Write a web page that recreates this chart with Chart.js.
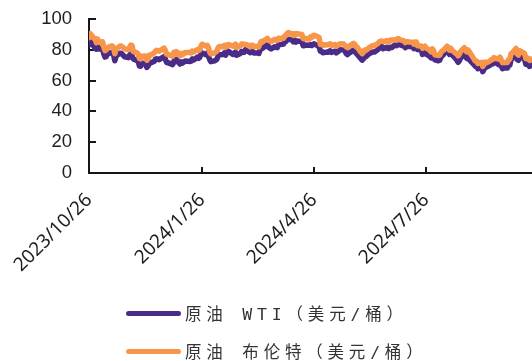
<!DOCTYPE html>
<html>
<head>
<meta charset="utf-8">
<script src="https://cdn.jsdelivr.net/npm/chart.js@4/dist/chart.umd.min.js"></script>
<style>
  html, body { margin: 0; padding: 0; background: #fff; }
  #wrap { position: relative; width: 532px; height: 361px; overflow: hidden; }
  #chart { position: absolute; left: 0; top: 0; }
  .item { position: absolute; left: 126px; height: 20px; display: flex; align-items: center; }
  .swatch { width: 55px; height: 5px; border-radius: 3px; flex: none; }
  .label { margin-left: 4px; font-size: 16.5px; font-family: "DejaVu Sans Mono", "Noto Sans CJK SC", monospace;
           letter-spacing: 4.8px; color: #333; white-space: nowrap; }
</style>
</head>
<body>
<div id="wrap">
  <canvas id="chart" width="532" height="361"></canvas>
  <div class="item" style="top:303px"><div class="swatch" id="sw0"></div><span class="label" id="lb0"></span></div>
  <div class="item" style="top:341px"><div class="swatch" id="sw1"></div><span class="label" id="lb1"></span></div>
</div>
<script>
// Daily closes, 2023/10/26 - 2024/10/22 (USD per barrel)
const dates = [
  // 2023-10
  '2023/10/26','2023/10/27','2023/10/30','2023/10/31',
  // 2023-11
  '2023/11/1','2023/11/2','2023/11/3','2023/11/6','2023/11/7','2023/11/8','2023/11/9','2023/11/10',
  '2023/11/13','2023/11/14','2023/11/15','2023/11/16','2023/11/17','2023/11/20','2023/11/21','2023/11/22',
  '2023/11/24','2023/11/27','2023/11/28','2023/11/29','2023/11/30',
  // 2023-12
  '2023/12/1','2023/12/4','2023/12/5','2023/12/6','2023/12/7','2023/12/8','2023/12/11','2023/12/12',
  '2023/12/13','2023/12/14','2023/12/15','2023/12/18','2023/12/19','2023/12/20','2023/12/21','2023/12/22',
  '2023/12/26','2023/12/27','2023/12/28','2023/12/29',
  // 2024-01
  '2024/1/2','2024/1/3','2024/1/4','2024/1/5','2024/1/8','2024/1/9','2024/1/10','2024/1/11','2024/1/12',
  '2024/1/16','2024/1/17','2024/1/18','2024/1/19','2024/1/22','2024/1/23','2024/1/24','2024/1/25','2024/1/26',
  '2024/1/29','2024/1/30','2024/1/31',
  // 2024-02
  '2024/2/1','2024/2/2','2024/2/5','2024/2/6','2024/2/7','2024/2/8','2024/2/9','2024/2/12','2024/2/13',
  '2024/2/14','2024/2/15','2024/2/16','2024/2/20','2024/2/21','2024/2/22','2024/2/23','2024/2/26','2024/2/27',
  '2024/2/28','2024/2/29',
  // 2024-03
  '2024/3/1','2024/3/4','2024/3/5','2024/3/6','2024/3/7','2024/3/8','2024/3/11','2024/3/12','2024/3/13',
  '2024/3/14','2024/3/15','2024/3/18','2024/3/19','2024/3/20','2024/3/21','2024/3/22','2024/3/25','2024/3/26',
  '2024/3/27','2024/3/28',
  // 2024-04
  '2024/4/1','2024/4/2','2024/4/3','2024/4/4','2024/4/5','2024/4/8','2024/4/9','2024/4/10','2024/4/11',
  '2024/4/12','2024/4/15','2024/4/16','2024/4/17','2024/4/18','2024/4/19','2024/4/22','2024/4/23','2024/4/24',
  '2024/4/25','2024/4/26','2024/4/29','2024/4/30',
  // 2024-05
  '2024/5/1','2024/5/2','2024/5/3','2024/5/6','2024/5/7','2024/5/8','2024/5/9','2024/5/10','2024/5/13',
  '2024/5/14','2024/5/15','2024/5/16','2024/5/17','2024/5/20','2024/5/21','2024/5/22','2024/5/23','2024/5/24',
  '2024/5/28','2024/5/29','2024/5/30','2024/5/31',
  // 2024-06
  '2024/6/3','2024/6/4','2024/6/5','2024/6/6','2024/6/7','2024/6/10','2024/6/11','2024/6/12','2024/6/13',
  '2024/6/14','2024/6/17','2024/6/18','2024/6/20','2024/6/21','2024/6/24','2024/6/25','2024/6/26','2024/6/27',
  '2024/6/28',
  // 2024-07
  '2024/7/1','2024/7/2','2024/7/3','2024/7/5','2024/7/8','2024/7/9','2024/7/10','2024/7/11','2024/7/12',
  '2024/7/15','2024/7/16','2024/7/17','2024/7/18','2024/7/19','2024/7/22','2024/7/23','2024/7/24','2024/7/25',
  '2024/7/26','2024/7/29','2024/7/30','2024/7/31',
  // 2024-08
  '2024/8/1','2024/8/2','2024/8/5','2024/8/6','2024/8/7','2024/8/8','2024/8/9','2024/8/12','2024/8/13',
  '2024/8/14','2024/8/15','2024/8/16','2024/8/19','2024/8/20','2024/8/21','2024/8/22','2024/8/23','2024/8/26',
  '2024/8/27','2024/8/28','2024/8/29','2024/8/30',
  // 2024-09
  '2024/9/3','2024/9/4','2024/9/5','2024/9/6','2024/9/9','2024/9/10','2024/9/11','2024/9/12','2024/9/13',
  '2024/9/16','2024/9/17','2024/9/18','2024/9/19','2024/9/20','2024/9/23','2024/9/24','2024/9/25','2024/9/26',
  '2024/9/27','2024/9/30',
  // 2024-10
  '2024/10/1','2024/10/2','2024/10/3','2024/10/4','2024/10/7','2024/10/8','2024/10/9','2024/10/10','2024/10/11',
  '2024/10/14','2024/10/15','2024/10/16','2024/10/17','2024/10/18','2024/10/21','2024/10/22'
];

const wti = [
  83.2, 85.5, 82.3, 81.0,
  80.4, 82.5, 80.5, 80.8, 77.4, 75.3, 75.7, 77.2, 78.3, 78.3, 76.7, 72.9, 75.9, 77.8, 77.8, 77.1, 75.5, 74.9, 76.4, 77.9, 76.0,
  74.1, 73.0, 72.3, 69.4, 69.3, 71.2, 71.3, 68.6, 69.5, 71.6, 71.4, 72.5, 73.9, 74.2, 73.9, 73.6, 75.6, 74.1, 71.8, 71.7,
  70.4, 72.7, 72.2, 73.8, 70.8, 72.2, 71.4, 72.0, 72.7, 72.4, 72.6, 74.1, 73.4, 75.2, 74.4, 75.1, 77.4, 78.0, 76.8, 77.8, 75.9,
  73.8, 72.3, 72.8, 73.3, 73.9, 76.2, 76.8, 76.9, 77.9, 76.6, 78.0, 79.2, 77.0, 77.9, 78.6, 76.5, 77.6, 78.9, 78.5, 78.3,
  80.0, 78.7, 78.2, 79.1, 78.9, 78.0, 77.9, 77.6, 79.7, 81.3, 81.0, 82.7, 83.5, 81.7, 81.1, 80.6, 82.0, 81.6, 81.4, 83.2,
  83.7, 85.2, 85.4, 86.6, 86.9, 86.4, 85.2, 86.2, 85.0, 85.7, 85.4, 85.4, 82.7, 82.7, 83.1, 82.9, 83.4, 82.8, 83.6, 83.9, 82.6, 81.9,
  79.0, 79.0, 78.1, 78.5, 78.4, 79.0, 79.3, 78.3, 79.1, 78.0, 78.6, 79.2, 80.1, 79.8, 79.3, 77.6, 76.9, 77.7, 79.8, 79.2, 77.9, 77.0,
  74.2, 73.3, 74.1, 75.6, 75.5, 77.7, 78.0, 78.5, 78.6, 78.5, 80.3, 81.6, 82.2, 80.7, 81.6, 80.8, 80.9, 81.7, 81.5,
  83.4, 82.8, 83.9, 83.2, 82.3, 81.4, 82.1, 82.6, 82.2, 81.9, 80.8, 82.9, 82.8, 80.1, 79.8, 77.0, 77.6, 78.3, 77.2, 75.8, 74.7, 77.9,
  76.3, 73.5, 72.9, 73.2, 75.2, 76.2, 76.8, 80.1, 78.4, 77.0, 78.2, 76.7, 74.4, 73.2, 71.9, 73.0, 74.8, 77.4, 75.5, 74.5, 75.9, 73.6,
  70.3, 69.2, 69.2, 67.7, 68.7, 65.8, 67.3, 69.0, 68.7, 70.1, 71.2, 70.9, 72.0, 71.9, 70.4, 71.6, 69.7, 67.7, 68.2, 68.2,
  69.8, 70.1, 73.7, 74.4, 77.1, 73.6, 73.2, 75.9, 75.6, 73.8, 70.6, 70.4, 70.7, 69.2, 70.6, 72.1
];

const brent = [
  87.9, 90.5, 87.5, 87.4,
  84.6, 86.9, 84.9, 85.2, 81.6, 79.5, 80.0, 81.4, 82.5, 82.5, 81.2, 77.4, 80.6, 82.3, 82.5, 82.0, 80.6, 80.0, 81.7, 83.1, 82.8,
  78.9, 78.0, 77.2, 74.3, 74.1, 75.8, 76.0, 73.2, 74.3, 76.6, 76.6, 78.0, 79.2, 79.7, 79.4, 79.1, 81.1, 79.7, 77.2, 77.0,
  75.9, 78.3, 77.6, 78.8, 76.1, 77.6, 76.8, 77.4, 78.3, 78.3, 77.9, 79.1, 78.6, 80.1, 79.6, 80.0, 82.4, 83.6, 82.4, 82.9, 81.7,
  78.7, 77.3, 78.0, 78.6, 79.2, 81.6, 82.2, 82.0, 82.8, 81.6, 82.9, 83.5, 82.3, 83.0, 83.7, 81.6, 82.5, 83.7, 83.7, 83.6,
  83.6, 82.8, 82.0, 83.0, 83.0, 82.1, 82.2, 81.9, 84.0, 85.4, 85.3, 86.9, 87.4, 86.0, 85.8, 85.4, 86.8, 86.3, 86.1, 87.5,
  87.4, 88.9, 89.4, 90.7, 91.2, 90.4, 89.4, 90.5, 89.7, 90.5, 90.1, 90.0, 87.3, 87.1, 87.3, 87.0, 88.4, 88.0, 89.0, 89.5, 88.4, 87.9,
  83.4, 83.7, 83.0, 83.3, 83.2, 83.6, 83.9, 82.8, 83.4, 82.4, 82.8, 83.3, 84.0, 83.7, 82.9, 82.0, 81.4, 82.1, 84.2, 83.6, 81.9, 81.6,
  78.4, 77.5, 78.4, 79.9, 79.6, 81.6, 81.9, 82.6, 82.8, 82.6, 84.3, 85.3, 85.7, 85.2, 86.0, 85.0, 85.3, 86.4, 86.4,
  86.6, 86.2, 87.3, 86.5, 85.8, 84.7, 85.1, 85.4, 85.0, 84.9, 83.7, 85.1, 85.1, 82.6, 82.4, 81.0, 81.7, 82.4, 81.1, 79.8, 78.6, 80.7,
  79.5, 76.8, 76.3, 76.5, 78.3, 79.2, 79.7, 82.3, 80.7, 79.8, 81.0, 79.7, 77.7, 77.2, 76.1, 77.2, 79.0, 81.4, 79.6, 78.7, 79.9, 78.8,
  73.8, 72.7, 72.7, 71.1, 71.8, 69.2, 70.6, 72.0, 71.6, 72.8, 73.7, 73.7, 74.9, 74.5, 73.9, 75.2, 73.5, 71.6, 72.0, 71.8,
  73.6, 73.9, 77.6, 78.1, 80.9, 77.2, 76.6, 79.4, 79.0, 77.5, 74.3, 74.2, 74.5, 73.1, 74.3, 76.0
];

const seriesNames = ['原油 WTI（美元/桶）', '原油 布伦特（美元/桶）'];
const tickLabels = ['2023/10/26', '2024/1/26', '2024/4/26', '2024/7/26'];
const yTicks = [0, 20, 40, 60, 80, 100];
const colors = ['#4b2b88', '#f7964a'];

// Date axis: positions are calendar days counted from the first date
function dayOf(s) {
  const [y, m, d] = s.split('/').map(Number);
  return (Date.UTC(y, m - 1, d) - Date.UTC(2023, 9, 26)) / 86400000;
}
const tickDays = tickLabels.map(dayOf);
const toPoints = vals => vals.map((v, i) => ({ x: dayOf(dates[i]), y: v }));

// Inward-pointing tick marks on both axes
const innerTicks = {
  id: 'innerTicks',
  beforeDatasetsDraw(chart) {
    const { ctx, chartArea: a, scales: { x, y } } = chart;
    ctx.save();
    ctx.strokeStyle = '#161616';
    ctx.lineWidth = 2;
    ctx.beginPath();
    y.ticks.forEach(t => {
      const p = Math.round(y.getPixelForValue(t.value));
      ctx.moveTo(a.left, p); ctx.lineTo(a.left + 7, p);
    });
    x.ticks.forEach(t => {
      const p = Math.round(x.getPixelForValue(t.value));
      ctx.moveTo(p, a.bottom); ctx.lineTo(p, a.bottom - 6);
    });
    ctx.stroke();
    ctx.restore();
  }
};

const lineStyle = {
  borderWidth: 5.5,
  pointRadius: 0,
  tension: 0,
  fill: false,
  borderJoinStyle: 'round',
  borderCapStyle: 'round'
};

new Chart(document.getElementById('chart'), {
  type: 'line',
  data: {
    datasets: [
      Object.assign({ label: seriesNames[0], data: toPoints(wti), borderColor: colors[0], order: 1 }, lineStyle),
      Object.assign({ label: seriesNames[1], data: toPoints(brent), borderColor: colors[1], order: 0 }, lineStyle)
    ]
  },
  options: {
    responsive: false,
    animation: false,
    layout: { padding: { top: 19, right: 0, bottom: 0, left: 0 } },
    plugins: { legend: { display: false }, tooltip: { enabled: false } },
    scales: {
      x: {
        type: 'linear',
        min: 0,
        max: 360,
        afterBuildTicks(s) { s.ticks = tickDays.map(v => ({ value: v })); },
        afterFit(s) { s.height = 188; },
        grid: { display: false, drawTicks: false },
        border: { display: true, color: '#161616', width: 2 },
        ticks: {
          autoSkip: false,
          minRotation: 45,
          maxRotation: 45,
          padding: 16,
          color: '#1e1e1e',
          font: { family: '"Noto Sans", "Open Sans", sans-serif', size: 19 },
          callback(v) { const i = tickDays.indexOf(v); return i < 0 ? null : tickLabels[i]; }
        }
      },
      y: {
        min: 0,
        max: 100,
        afterBuildTicks(s) { s.ticks = yTicks.map(v => ({ value: v })); },
        afterFit(s) { s.width = 89; s.paddingTop = 0; s.paddingBottom = 0; },
        grid: { display: false, drawTicks: false },
        border: { display: true, color: '#161616', width: 2 },
        ticks: {
          padding: 17,
          color: '#1e1e1e',
          font: { family: '"Liberation Sans", Arial, sans-serif', size: 18.5 }
        }
      }
    }
  },
  plugins: [innerTicks]
});

// Legend rows below the plot
seriesNames.forEach((name, i) => {
  document.getElementById('sw' + i).style.background = colors[i];
  document.getElementById('lb' + i).textContent = name;
});
</script>
</body>
</html>
